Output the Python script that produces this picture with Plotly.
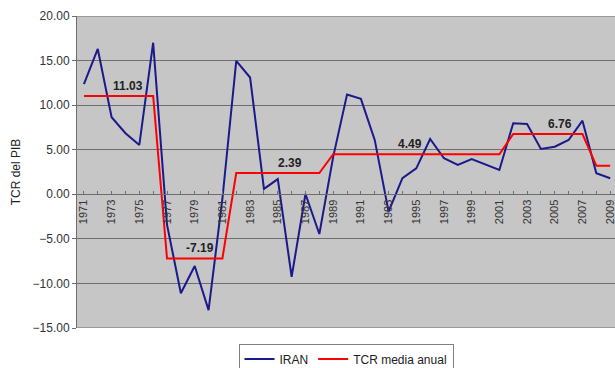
import plotly.graph_objects as go

years = list(range(1971, 2010))
iran = [12.35, 16.3, 8.64, 6.85, 5.53, 17.0, -3.4, -11.1, -8.05, -13.0,
        -0.5, 14.96, 13.1, 0.6, 1.7, -9.25, 0.03, -4.46, 4.2, 11.2,
        10.7, 6.1, -1.95, 1.8, 2.9, 6.2, 4.04, 3.29, 3.96, 3.37,
        2.73, 7.97, 7.89, 5.08, 5.34, 6.09, 8.26, 2.36, 1.8]
tcr_media = [11.03, 11.03, 11.03, 11.03, 11.03, 11.03,
             -7.19, -7.19, -7.19, -7.19, -7.19,
             2.39, 2.39, 2.39, 2.39, 2.39, 2.39, 2.39,
             4.49, 4.49, 4.49, 4.49, 4.49, 4.49, 4.49, 4.49, 4.49, 4.49, 4.49, 4.49, 4.49,
             6.76, 6.76, 6.76, 6.76, 6.76, 6.76,
             3.2, 3.2]
label_years = [1974.2, 1979.4, 1985.9, 1994.55, 2005.4]
label_values = [11.03, -7.19, 2.39, 4.49, 6.76]
label_texts = ["11.03", "-7.19", "2.39", "4.49", "6.76"]
tick_years = list(range(1971, 2010, 2))
y_min, y_max = -15, 20

fig = go.Figure()
fig.add_trace(go.Scatter(x=years, y=iran, mode="lines", name="IRAN",
                         line=dict(color="#1a1a8c", width=2)))
fig.add_trace(go.Scatter(x=years, y=tcr_media, mode="lines", name="TCR media anual",
                         line=dict(color="#ff0000", width=2)))

for x, y, t in zip(label_years, label_values, label_texts):
    fig.add_annotation(x=x, y=y, text="<b>" + t + "</b>", showarrow=False,
                       yanchor="bottom", yshift=1,
                       font=dict(family="Liberation Sans, Arial", size=12, color="#222222"))

for yv in (y_min, y_max):
    fig.add_shape(type="line", xref="paper", yref="y", x0=0, x1=1, y0=yv, y1=yv,
                  line=dict(color="#6e6e6e", width=1), layer="below")

fig.update_layout(
    width=615, height=368,
    margin=dict(l=77, r=0, t=16, b=40, autoexpand=False),
    paper_bgcolor="white",
    plot_bgcolor="#c6c6c6",
    font=dict(family="Liberation Sans, Arial", size=12, color="#333333"),
    showlegend=True,
    legend=dict(orientation="h", x=0.5, xanchor="center", y=-0.05, yanchor="top",
                bordercolor="#808080", borderwidth=1, bgcolor="white",
                font=dict(size=12, color="#222222"), itemwidth=30,
                tracegroupgap=0),
    xaxis=dict(
        range=[1970.5, 2009.35],
        tickmode="array", tickvals=tick_years,
        ticktext=[str(y) for y in tick_years],
        tickangle=-90,
        tickfont=dict(size=11, color="#333333"),
        ticklabeloverflow="allow",
        showgrid=False, zeroline=False,
        showline=True, linecolor="#6e6e6e", linewidth=1,
        anchor="free", position=(0 - y_min) / (y_max - y_min),
        ticks="inside", ticklen=3, tickcolor="#6e6e6e",
        minor=dict(tickvals=years, ticks="inside", ticklen=3, tickcolor="#6e6e6e"),
        automargin=False,
    ),
    yaxis=dict(
        range=[y_min, y_max], dtick=5, tick0=0, tickformat=".2f",
        showgrid=True, gridcolor="#6e6e6e", gridwidth=1,
        zeroline=False,
        showline=True, linecolor="#6e6e6e", linewidth=1,
        ticks="outside", ticklen=4, tickcolor="#6e6e6e",
        title=dict(text="TCR del PIB", font=dict(size=12, color="#222222"), standoff=9),
        tickfont=dict(size=12, color="#333333"),
        automargin=False,
    ),
)

fig.write_html("out.html", config={"displayModeBar": False},
               post_script="document.body.style.margin='0';document.body.style.overflow='hidden';")
